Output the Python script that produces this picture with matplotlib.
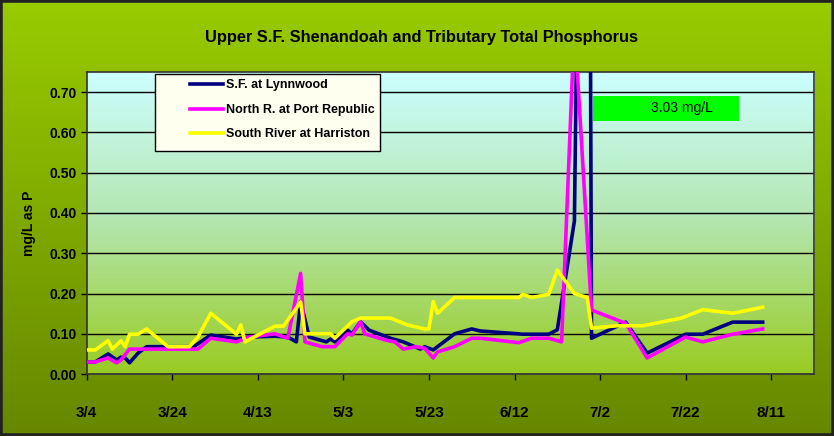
import numpy as np
import pandas as pd
import matplotlib
matplotlib.use("Agg")
import matplotlib.pyplot as plt
from matplotlib.patches import Rectangle

# data, year is arbitrary
yr = "2006"

sf_dates = ["3/4", "3/6", "3/9", "3/11", "3/12", "3/13", "3/14", "3/16", "3/18", "3/22",
            "3/29", "4/2", "4/8", "4/11", "4/17", "4/20", "4/22", "4/23", "4/25", "4/29",
            "4/30", "5/1", "5/4", "5/5", "5/7", "5/9", "5/14", "5/17", "5/21", "5/22",
            "5/24", "5/29", "6/2", "6/4", "6/14", "6/20", "6/22", "6/26", "6/29", "6/30",
            "7/8", "7/13", "7/22", "7/26", "8/2", "8/9"]
sf_vals = [0.03, 0.03, 0.05, 0.035, 0.042, 0.04, 0.028, 0.052, 0.068, 0.068,
           0.068, 0.097, 0.087, 0.092, 0.094, 0.092, 0.08, 0.18, 0.092, 0.08,
           0.087, 0.08, 0.109, 0.10, 0.13, 0.109, 0.089, 0.08, 0.062, 0.068,
           0.06, 0.10, 0.112, 0.107, 0.099, 0.099, 0.11, 0.38, 3.03, 0.089,
           0.129, 0.052, 0.099, 0.099, 0.129, 0.129]

nr_dates = ["3/4", "3/6", "3/9", "3/11", "3/12", "3/14", "3/30", "4/2", "4/8", "4/11",
            "4/17", "4/20", "4/23", "4/24", "4/28", "5/1", "5/4", "5/5", "5/7", "5/8",
            "5/13", "5/15", "5/17", "5/20", "5/22", "5/24", "5/25", "5/29", "6/2", "6/4",
            "6/13", "6/16", "6/20", "6/23", "6/26", "6/30", "7/8", "7/13", "7/22", "7/26",
            "8/2", "8/9"]
nr_vals = [0.03, 0.03, 0.04, 0.028, 0.035, 0.062, 0.062, 0.089, 0.08, 0.092,
           0.10, 0.089, 0.25, 0.08, 0.068, 0.068, 0.10, 0.097, 0.13, 0.10,
           0.084, 0.08, 0.062, 0.068, 0.064, 0.04, 0.055, 0.068, 0.089, 0.089,
           0.078, 0.089, 0.089, 0.08, 0.87, 0.159, 0.126, 0.04, 0.092, 0.08,
           0.099, 0.112]

sr_dates = ["3/4", "3/6", "3/9", "3/10", "3/12", "3/13", "3/14", "3/16", "3/18", "3/23",
            "3/28", "3/30", "4/2", "4/8", "4/9", "4/10", "4/17", "4/19", "4/23", "4/24",
            "4/30", "5/1", "5/5", "5/7", "5/14", "5/18", "5/22", "5/23", "5/24", "5/25",
            "5/29", "6/13", "6/14", "6/16", "6/20", "6/22", "6/26", "6/29", "6/30", "7/6",
            "7/12", "7/21", "7/26", "8/2", "8/9"]
sr_vals = [0.06, 0.06, 0.083, 0.062, 0.083, 0.068, 0.099, 0.099, 0.112, 0.068,
           0.068, 0.092, 0.151, 0.099, 0.122, 0.08, 0.119, 0.119, 0.179, 0.10,
           0.10, 0.089, 0.13, 0.139, 0.139, 0.122, 0.112, 0.112, 0.18, 0.151,
           0.19, 0.19, 0.198, 0.19, 0.198, 0.258, 0.2, 0.19, 0.114, 0.12,
           0.12, 0.139, 0.16, 0.151, 0.166]

tick_labels = ["3/4", "3/24", "4/13", "5/3", "5/23", "6/12", "7/2", "7/22", "8/11"]


def to_dt(lst):
    return pd.to_datetime([f"{yr}/{d}" for d in lst], format="%Y/%m/%d")


narrow = ["Liberation Sans Narrow", "Liberation Sans", "DejaVu Sans"]
arial = ["Liberation Sans", "DejaVu Sans"]

fig = plt.figure(figsize=(8.34, 4.36), dpi=100)

# figure background gradient
bg = fig.add_axes([0, 0, 1, 1], zorder=-10)
top_c = np.array([0.60, 0.80, 0.0])
bot_c = np.array([0.40, 0.53, 0.0])
t = np.linspace(0, 1, 256)[:, None]
grad = top_c * (1 - t) + bot_c * t
bg.imshow(grad[:, None, :], aspect="auto", extent=[0, 1, 0, 1])
bg.add_patch(Rectangle((0, 0), 1, 1, transform=bg.transAxes, fill=False,
                       edgecolor="#222222", linewidth=4))
bg.axis("off")

ax = fig.add_axes([0.104, 0.142, 0.872, 0.693])
ax.patch.set_visible(False)
# plot-area gradient
p_top = np.array([0.80, 1.0, 1.0])
p_mid = np.array([0.70, 0.90, 0.68])
p_bot = np.array([0.60, 0.80, 0.13])
g = np.empty((256, 3))
for i, v in enumerate(np.linspace(0, 1, 256)):
    if v < 0.5:
        g[i] = p_top * (1 - v / 0.5) + p_mid * (v / 0.5)
    else:
        g[i] = p_mid * (1 - (v - 0.5) / 0.5) + p_bot * ((v - 0.5) / 0.5)
ax.imshow(g[:, None, :], aspect="auto", extent=[0, 1, 0, 1],
          transform=ax.transAxes, zorder=0)

ax.plot(to_dt(sf_dates), sf_vals, color="#000080", lw=2.6, label="S.F. at Lynnwood", zorder=3)
ax.plot(to_dt(nr_dates), nr_vals, color="#FF00FF", lw=2.6, label="North R. at Port Republic", zorder=4)
ax.plot(to_dt(sr_dates), sr_vals, color="#FFFF00", lw=2.6, label="South River at Harriston", zorder=5)

ax.set_ylim(0, 0.75)
ax.set_xlim(pd.Timestamp(f"{yr}-03-04"), pd.Timestamp(f"{yr}-08-21"))
ax.set_yticks(np.arange(0, 0.71, 0.1))
ax.yaxis.set_major_formatter(matplotlib.ticker.FormatStrFormatter("%.2f"))
ax.set_xticks(to_dt(tick_labels))
ax.set_xticklabels(tick_labels)
ax.grid(axis="y", color="black", lw=1, zorder=1)
ax.set_axisbelow(True)
ax.tick_params(axis="both", direction="out", length=4, color="black", width=1)
for lab in ax.get_yticklabels():
    lab.set_fontfamily(arial)
    lab.set_fontweight("bold")
    lab.set_fontsize(10)
for lab in ax.get_xticklabels():
    lab.set_fontfamily(narrow)
    lab.set_fontweight("bold")
    lab.set_fontsize(11)
ax.tick_params(axis="x", pad=19)
ax.tick_params(axis="y", pad=3)
for s in ax.spines.values():
    s.set_color("#333333")
    s.set_linewidth(1.2)

ax.set_ylabel("mg/L as P", family=arial, fontweight="bold", fontsize=10, labelpad=10)

fig.text(0.505, 0.915, "Upper S.F. Shenandoah and Tributary Total Phosphorus",
         ha="center", va="center", family=narrow, fontweight="bold", fontsize=11.8)

# legend box
ax.add_patch(Rectangle((0.094, 0.738), 0.309, 0.255, transform=ax.transAxes,
                       facecolor="#FFFFF0", edgecolor="black", lw=1, zorder=9))
leg = ax.legend(loc="upper left", bbox_to_anchor=(0.142, 0.975), frameon=False,
                prop={"family": arial, "weight": "bold", "size": 9},
                handlelength=2.6, borderpad=0.0, labelspacing=1.0, handletextpad=0.3,
                borderaxespad=0)
leg.set_zorder(10)

# annotation box for the off-scale value
ax.add_patch(Rectangle((0.696, 0.838), 0.201, 0.083, transform=ax.transAxes,
                       facecolor="#00FF00", edgecolor="none", zorder=10))
ax.text(0.818, 0.879, "3.03 mg/L", transform=ax.transAxes, ha="center", va="center",
        family=arial, fontsize=10, zorder=11)

fig.savefig("out.png", dpi=100)
